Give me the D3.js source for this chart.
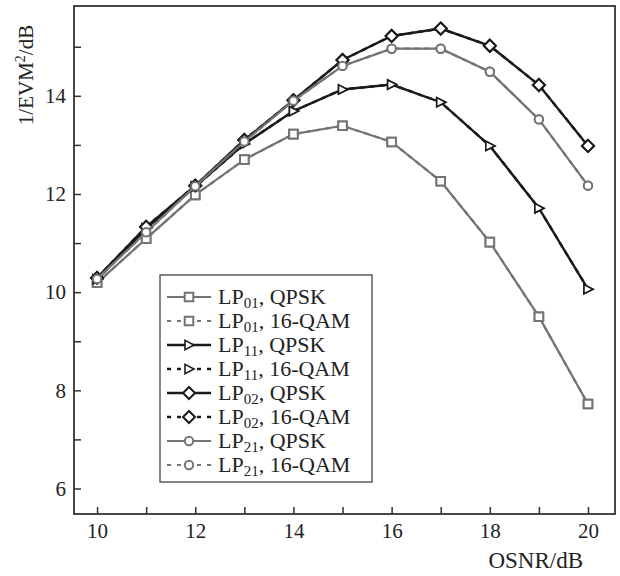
<!DOCTYPE html>
<html>
<head>
<meta charset="utf-8">
<script src="https://cdn.jsdelivr.net/npm/d3@7"></script>
<style>
  body { margin: 0; background: #fff; }
  text { font-family: "Liberation Serif", "Times New Roman", serif; fill: #222; }
</style>
</head>
<body>
<div id="chart"></div>
<script>
// ----- Data -----
const osnr = [10, 11, 12, 13, 14, 15, 16, 17, 18, 19, 20];

// 16-QAM curves sit right under the QPSK ones in the figure
const lp01Qpsk  = [10.19, 11.09, 11.98, 12.70, 13.22, 13.39, 13.06, 12.26, 11.02, 9.50, 7.72];
const lp01Qam16 = [10.19, 11.09, 11.98, 12.70, 13.22, 13.39, 13.06, 12.26, 11.02, 9.50, 7.72];
const lp11Qpsk  = [10.26, 11.30, 12.15, 13.02, 13.69, 14.13, 14.23, 13.87, 12.98, 11.71, 10.06];
const lp11Qam16 = [10.26, 11.30, 12.15, 13.02, 13.69, 14.13, 14.23, 13.87, 12.98, 11.71, 10.06];
const lp02Qpsk  = [10.29, 11.33, 12.17, 13.10, 13.91, 14.73, 15.22, 15.37, 15.02, 14.22, 12.98];
const lp02Qam16 = [10.29, 11.33, 12.17, 13.10, 13.91, 14.73, 15.22, 15.37, 15.02, 14.22, 12.98];
const lp21Qpsk  = [10.27, 11.22, 12.16, 13.07, 13.90, 14.61, 14.96, 14.96, 14.49, 13.52, 12.17];
const lp21Qam16 = [10.27, 11.22, 12.16, 13.07, 13.90, 14.61, 14.96, 14.96, 14.49, 13.52, 12.17];

const xTicks = d3.range(10, 21);
const xLabels = [10, 12, 14, 16, 18, 20];
const yTicks = d3.range(6, 16);
const yLabels = [6, 8, 10, 12, 14];

const gray = "#747474", black = "#1a1a1a";

// name parts: mode (subscript), format
const series = [
  { mode: "01", fmt: "QPSK",   values: lp01Qpsk,  color: gray,  shape: "square",   dashed: false },
  { mode: "01", fmt: "16-QAM", values: lp01Qam16, color: gray,  shape: "square",   dashed: true },
  { mode: "11", fmt: "QPSK",   values: lp11Qpsk,  color: black, shape: "triangle", dashed: false },
  { mode: "11", fmt: "16-QAM", values: lp11Qam16, color: black, shape: "triangle", dashed: true },
  { mode: "02", fmt: "QPSK",   values: lp02Qpsk,  color: black, shape: "diamond",  dashed: false },
  { mode: "02", fmt: "16-QAM", values: lp02Qam16, color: black, shape: "diamond",  dashed: true },
  { mode: "21", fmt: "QPSK",   values: lp21Qpsk,  color: gray,  shape: "circle",   dashed: false },
  { mode: "21", fmt: "16-QAM", values: lp21Qam16, color: gray,  shape: "circle",   dashed: true }
];

// ----- Layout -----
const width = 620, height = 576;
const plot = { left: 74, top: 6, right: 615, bottom: 514 };

const svg = d3.select("#chart").append("svg")
  .attr("width", width)
  .attr("height", height);

const x = d3.scaleLinear().domain([9.53, 20.55]).range([plot.left, plot.right]);
const y = d3.scaleLinear().domain([5.48, 15.83]).range([plot.bottom, plot.top]);

// marker shapes, centred on 0,0
function markerPath(shape) {
  switch (shape) {
    case "square":   return "M-4.3,-4.3H4.3V4.3H-4.3Z";
    case "triangle": return "M-4,-4.6L5,0L-4,4.6Z";
    case "diamond":  return "M0,-6L6,0L0,6L-6,0Z";
    default:         return d3.arc()({ innerRadius: 0, outerRadius: 4.2, startAngle: 0, endAngle: 2 * Math.PI });
  }
}

// ----- Axes (ticks point inward) -----
const xAxis = d3.axisBottom(x)
  .tickValues(xTicks)
  .tickSizeInner(-7)
  .tickSizeOuter(0)
  .tickPadding(9)
  .tickFormat(d => xLabels.includes(d) ? d : "");

const yAxis = d3.axisLeft(y)
  .tickValues(yTicks)
  .tickSizeInner(-7)
  .tickSizeOuter(0)
  .tickPadding(8)
  .tickFormat(d => yLabels.includes(d) ? d : "");

const gx = svg.append("g")
  .attr("transform", `translate(0,${plot.bottom})`)
  .call(xAxis);
const gy = svg.append("g")
  .attr("transform", `translate(${plot.left},0)`)
  .call(yAxis);

[gx, gy].forEach(g => {
  g.select(".domain").remove();
  g.selectAll(".tick line").attr("stroke", "#333").attr("stroke-width", 1.5);
  g.selectAll(".tick text")
    .attr("font-size", 21)
    .attr("font-family", "Liberation Serif, serif")
    .attr("fill", "#222");
});

// frame
svg.append("rect")
  .attr("x", plot.left)
  .attr("y", plot.top)
  .attr("width", plot.right - plot.left)
  .attr("height", plot.bottom - plot.top)
  .attr("fill", "none")
  .attr("stroke", "#333")
  .attr("stroke-width", 1.8);

// ----- Curves -----
const line = d3.line()
  .x((d, i) => x(osnr[i]))
  .y(d => y(d));

// dashed curves first so the solid ones lie on top
const drawOrder = series.filter(s => s.dashed).concat(series.filter(s => !s.dashed));

const curves = svg.append("g")
  .selectAll("g")
  .data(drawOrder)
  .join("g");

curves.append("path")
  .attr("d", d => line(d.values))
  .attr("fill", "none")
  .attr("stroke", d => d.color)
  .attr("stroke-width", d => d.color === gray ? 2.2 : 2.4)
  .attr("stroke-dasharray", d => d.dashed ? "5,5" : null);

curves.selectAll("path.marker")
  .data(d => d.values.map((v, i) => ({ v, i, s: d })))
  .join("path")
  .attr("class", "marker")
  .attr("transform", d => `translate(${x(osnr[d.i])},${y(d.v)})`)
  .attr("d", d => markerPath(d.s.shape))
  .attr("fill", "#fff")
  .attr("stroke", d => d.s.color)
  .attr("stroke-width", d => d.s.shape === "triangle" ? 1.6 : 2);

// ----- Legend -----
const legend = svg.append("g");

legend.append("rect")
  .attr("x", 160)
  .attr("y", 275)
  .attr("width", 212)
  .attr("height", 207)
  .attr("fill", "#fff")
  .attr("stroke", "#444")
  .attr("stroke-width", 1.3);

const rows = legend.selectAll("g.row")
  .data(series)
  .join("g")
  .attr("class", "row")
  .attr("transform", (d, i) => `translate(0,${297 + i * 24})`);

rows.append("path")
  .attr("d", "M167,0H211")
  .attr("stroke", d => d.color)
  .attr("stroke-width", d => d.color === gray ? 2.2 : 2.4)
  .attr("stroke-dasharray", d => d.dashed ? "4,6" : null)
  .attr("fill", "none");

rows.append("path")
  .attr("transform", "translate(189,0)")
  .attr("d", d => markerPath(d.shape))
  .attr("fill", "#fff")
  .attr("stroke", d => d.color)
  .attr("stroke-width", d => d.shape === "triangle" ? 1.6 : 2);

const label = rows.append("text")
  .attr("x", 218)
  .attr("y", 7)
  .attr("font-size", 22);
label.append("tspan").text("LP");
label.append("tspan")
  .attr("font-size", 15)
  .attr("dy", 4)
  .text(d => d.mode);
label.append("tspan")
  .attr("dy", -4)
  .text(d => ", " + d.fmt);

// ----- Axis titles -----
const yTitle = svg.append("text")
  .attr("transform", "translate(33,75) rotate(-90)")
  .attr("text-anchor", "middle")
  .attr("font-size", 21);
yTitle.append("tspan").text("1/EVM");
yTitle.append("tspan").attr("font-size", 14).attr("dy", -8).text("2");
yTitle.append("tspan").attr("dy", 8).text("/dB");

svg.append("text")
  .attr("x", 583)
  .attr("y", 568)
  .attr("text-anchor", "end")
  .attr("font-size", 23)
  .text("OSNR/dB");
</script>
</body>
</html>
